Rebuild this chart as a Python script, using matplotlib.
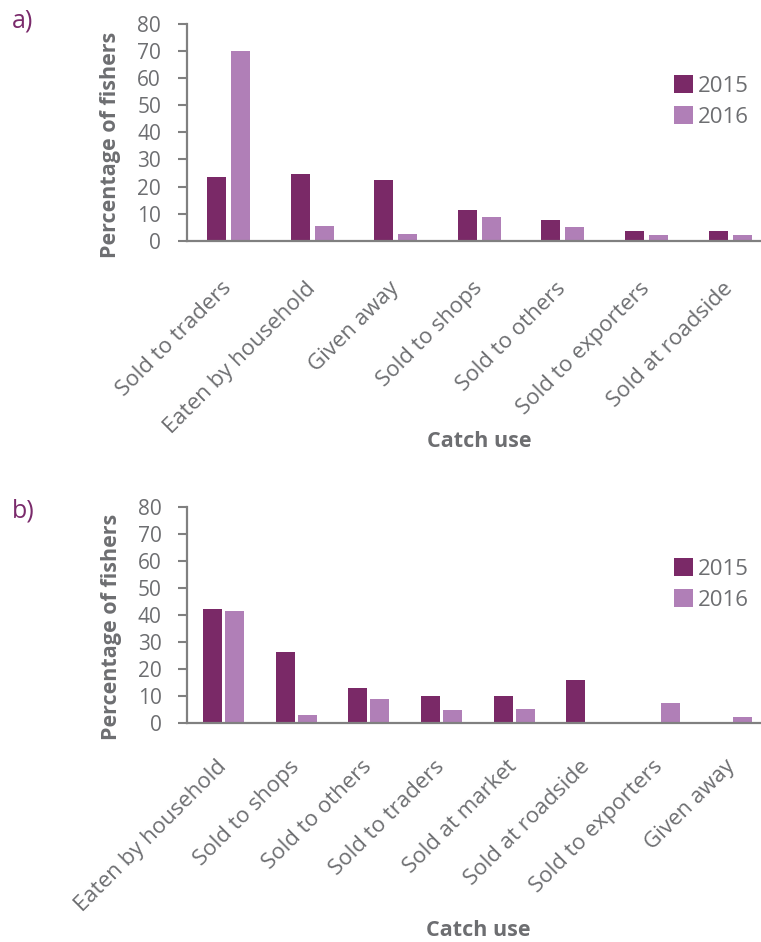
import matplotlib
matplotlib.use("Agg")
import matplotlib.pyplot as plt
import matplotlib.transforms as mtransforms
from matplotlib.patches import Patch
import numpy as np

# ---- data -------------------------------------------------------------
years = ["2015", "2016"]

cats_a = ["Sold to traders", "Eaten by household", "Given away", "Sold to shops",
          "Sold to others", "Sold to exporters", "Sold at roadside"]
a_2015 = [23.6, 24.7, 22.5, 11.4, 7.7, 3.6, 3.6]
a_2016 = [70.0, 5.4, 2.5, 8.8, 5.1, 2.1, 2.1]

cats_b = ["Eaten by household", "Sold to shops", "Sold to others", "Sold to traders",
          "Sold at market", "Sold at roadside", "Sold to exporters", "Given away"]
b_2015 = [42.2, 26.3, 13.0, 10.1, 10.1, 16.0, 0.0, 0.0]
b_2016 = [41.4, 3.1, 9.0, 4.9, 5.3, 0.0, 7.5, 2.3]

y_ticks = [0, 10, 20, 30, 40, 50, 60, 70, 80]

# ---- style ------------------------------------------------------------
DARK = "#7a2967"
LIGHT = "#b07fb7"
GREY = "#6d6e71"
AXIS = "#808080"
FONT = ["Open Sans", "DejaVu Sans"]
plt.rcParams["font.family"] = FONT

W, H = 761, 942
fig = plt.figure(figsize=(W / 100, H / 100), dpi=100)


def px_axes(left, top, right, bottom):
    return fig.add_axes([left / W, 1 - bottom / H, (right - left) / W, (bottom - top) / H])


def draw_panel(ax, cats, v15, v16, width, offset, label_y, leg_xy, tag, tag_xy, pad):
    x = np.arange(len(cats))
    ax.bar(x - offset, v15, width, color=DARK, label=years[0], zorder=2)
    ax.bar(x + offset, v16, width, color=LIGHT, label=years[1], zorder=2)
    ax.set_xlim(-0.5, len(cats) - 0.5)
    ax.set_ylim(0, 80)
    ax.set_yticks(y_ticks)
    ax.set_xticks(x)
    ax.set_xticklabels(cats, rotation=45, ha="right", va="center",
                       rotation_mode="anchor", fontsize=16, color=GREY)
    shift = mtransforms.ScaledTranslation(9 / 100, 0, fig.dpi_scale_trans)
    for lab in ax.get_xticklabels():
        lab.set_transform(lab.get_transform() + shift)
    ax.tick_params(axis="x", length=0, pad=pad)
    ax.tick_params(axis="y", length=6.5, width=1.5, color=AXIS, pad=12,
                   labelsize=15, labelcolor=GREY)
    for side in ("top", "right"):
        ax.spines[side].set_visible(False)
    for side in ("left", "bottom"):
        ax.spines[side].set_color(AXIS)
        ax.spines[side].set_linewidth(1.6)
    ax.set_ylabel("Percentage of fishers", fontsize=15.5, fontweight="bold", color=GREY)
    ax.yaxis.set_label_coords(-0.113, label_y)
    ax.set_xlabel("Catch use", fontsize=15.5, fontweight="bold", color=GREY)

    handles = [Patch(facecolor=DARK, edgecolor="none"), Patch(facecolor=LIGHT, edgecolor="none")]
    leg = fig.legend(handles, years, loc="upper left",
                     bbox_to_anchor=(leg_xy[0] / W, 1 - leg_xy[1] / H),
                     frameon=False, fontsize=16, handlelength=0.86, handleheight=0.86,
                     handletextpad=0.2, labelspacing=0.42, borderpad=0, borderaxespad=0)
    for t in leg.get_texts():
        t.set_color(GREY)

    fig.text(tag_xy[0] / W, 1 - tag_xy[1] / H, tag, fontsize=18, color="#7a2a6b",
             ha="left", va="top", family=["Liberation Sans Narrow", "Open Sans", "DejaVu Sans"])


ax_a = px_axes(186.7, 24.0, 771.9, 240.7)
draw_panel(ax_a, cats_a, a_2015, a_2016, 0.227, 0.1435, 0.44, (674, 75), "a)", (12, 9), 32)
ax_a.xaxis.set_label_coords(0.5, -0.878)
ax_a.xaxis.label.set_va("top")

ax_b = px_axes(187.4, 506.7, 768.2, 723.3)
draw_panel(ax_b, cats_b, b_2015, b_2016, 0.262, 0.152, 0.447, (674, 558), "b)", (12, 499), 29)
ax_b.xaxis.set_label_coords(0.5, -0.908)
ax_b.xaxis.label.set_va("top")

fig.savefig("out.png", dpi=100)
